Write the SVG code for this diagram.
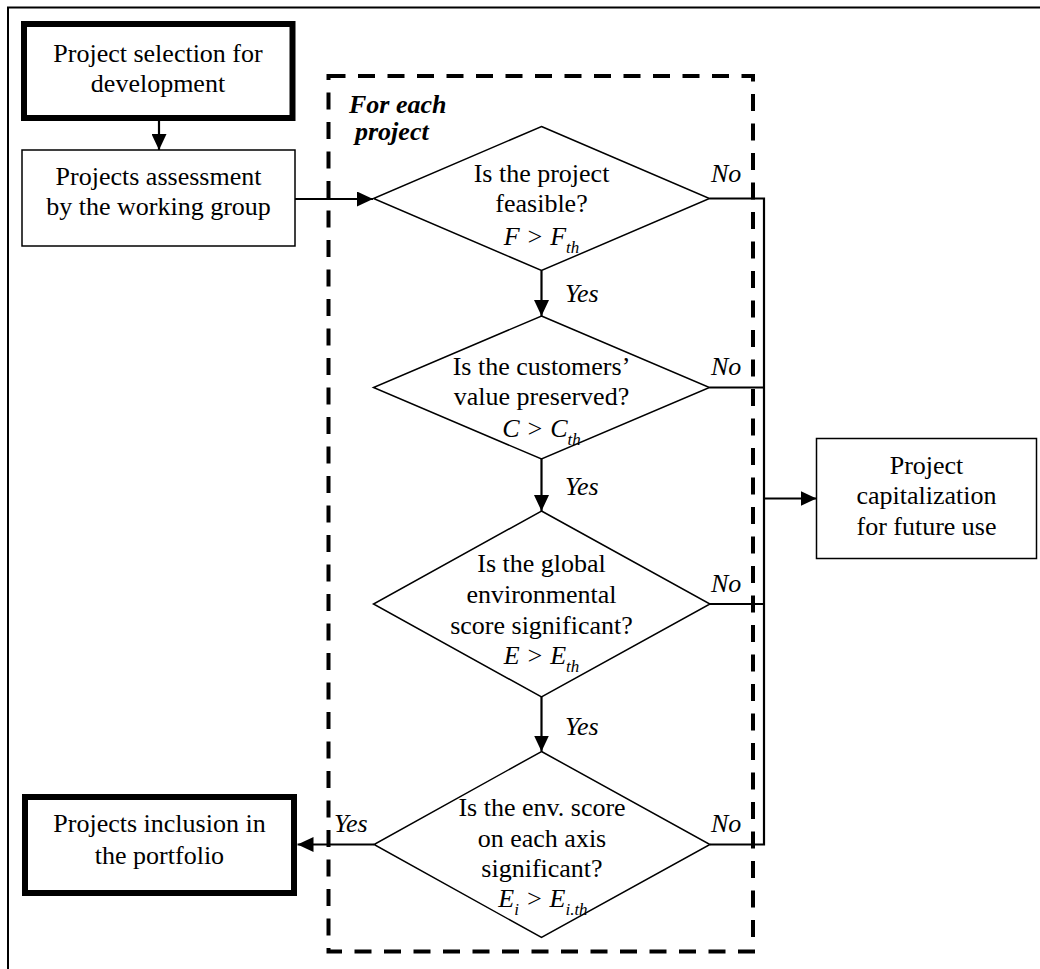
<svg xmlns="http://www.w3.org/2000/svg" width="1040" height="969" viewBox="0 0 1040 969">
<defs>
<style>
.t{font-family:"Liberation Serif","Times New Roman",serif;font-size:26px;fill:#000;text-anchor:middle}
.i{font-style:italic}
.s{font-size:17px}
.lbl{font-family:"Liberation Serif","Times New Roman",serif;font-size:26px;font-style:italic;fill:#000}
.thin{fill:#fff;stroke:#000;stroke-width:1.5}
.thick{fill:#fff;stroke:#000;stroke-width:6}
.dia{fill:#fff;stroke:#000;stroke-width:1.5}
.con{fill:none;stroke:#000;stroke-width:2.2}
.arr{fill:none;stroke:#000;stroke-width:2.2;marker-end:url(#ah)}
</style>
<marker id="ah" markerUnits="userSpaceOnUse" markerWidth="16" markerHeight="15" refX="16" refY="7.5" orient="auto">
<path d="M0,0 L16,7.5 L0,15 z" fill="#000"/>
</marker>
</defs>
<rect width="1040" height="969" fill="#fff"/>
<path d="M8,975 V7.5 H1045" fill="none" stroke="#000" stroke-width="2"/>

<g id="loop-frame">
<rect x="328.5" y="76" width="424.5" height="875.5" fill="none" stroke="#000" stroke-width="4" stroke-dasharray="17 12.5"/>
<text class="lbl" font-weight="bold" x="349" y="113">For each</text>
<text class="lbl" font-weight="bold" x="355" y="140">project</text>
</g>

<g id="connectors">
<path class="arr" d="M159,121 V150"/>
<path class="arr" d="M295,199 H373"/>
<path class="arr" d="M541.5,270.5 V316"/>
<path class="arr" d="M541.5,459 V511"/>
<path class="arr" d="M541.5,697 V751.5"/>
<path class="arr" d="M374,844.5 H297.5"/>
<path class="con" d="M709.5,198.5 H764 V844.5 H710"/>
<path class="con" d="M709.5,387.5 H764"/>
<path class="con" d="M710,604 H764"/>
<path class="arr" d="M764,498.5 H816.5"/>
<text class="lbl" x="565" y="302">Yes</text>
<text class="lbl" x="565" y="495">Yes</text>
<text class="lbl" x="565" y="735">Yes</text>
<text class="lbl" x="334" y="832">Yes</text>
<text class="lbl" x="711" y="182">No</text>
<text class="lbl" x="711" y="375">No</text>
<text class="lbl" x="711" y="592">No</text>
<text class="lbl" x="711" y="832">No</text>
</g>

<g id="selection">
<rect class="thick" x="24" y="24" width="268.5" height="94"/>
<text class="t" x="158" y="62">Project selection for</text>
<text class="t" x="158" y="92">development</text>
</g>

<g id="assessment">
<rect class="thin" x="22" y="150" width="273" height="96"/>
<text class="t" x="158.5" y="185">Projects assessment</text>
<text class="t" x="158.5" y="215">by the working group</text>
</g>

<g id="feasible">
<polygon class="dia" points="541.5,126.5 709.5,198.5 541.5,270.5 373.5,198.5"/>
<text class="t" x="541.5" y="182">Is the project</text>
<text class="t" x="541.5" y="212">feasible?</text>
<text class="t i" x="541.5" y="245">F &gt; F<tspan class="s" dy="8">th</tspan></text>
</g>

<g id="customers">
<polygon class="dia" points="541.5,316 709.5,387.5 541.5,459 373.5,387.5"/>
<text class="t" x="541.5" y="375">Is the customers’</text>
<text class="t" x="541.5" y="405">value preserved?</text>
<text class="t i" x="541.5" y="437">C &gt; C<tspan class="s" dy="8">th</tspan></text>
</g>

<g id="global">
<polygon class="dia" points="541.5,511 710,604 541.5,697 373.5,604"/>
<text class="t" x="541.5" y="572">Is the global</text>
<text class="t" x="541.5" y="602.5">environmental</text>
<text class="t" x="541.5" y="633.5">score significant?</text>
<text class="t i" x="541.5" y="663.5">E &gt; E<tspan class="s" dy="8">th</tspan></text>
</g>

<g id="axis">
<polygon class="dia" points="541.5,751.5 710,844.5 541.5,937.5 374,844.5"/>
<text class="t" x="542" y="816">Is the env. score</text>
<text class="t" x="542" y="847">on each axis</text>
<text class="t" x="542" y="877">significant?</text>
<text class="t i" x="543" y="907">E<tspan class="s" dy="8">i</tspan><tspan dy="-8"> &gt; E</tspan><tspan class="s" dy="8">i.th</tspan></text>
</g>

<g id="capitalization">
<rect class="thin" x="816.5" y="438.5" width="220" height="120"/>
<text class="t" x="926.5" y="473.5">Project</text>
<text class="t" x="926.5" y="504">capitalization</text>
<text class="t" x="926.5" y="535">for future use</text>
</g>

<g id="inclusion">
<rect class="thick" x="25" y="797" width="269" height="96"/>
<text class="t" x="159.5" y="832">Projects inclusion in</text>
<text class="t" x="159.5" y="863.5">the portfolio</text>
</g>
</svg>
